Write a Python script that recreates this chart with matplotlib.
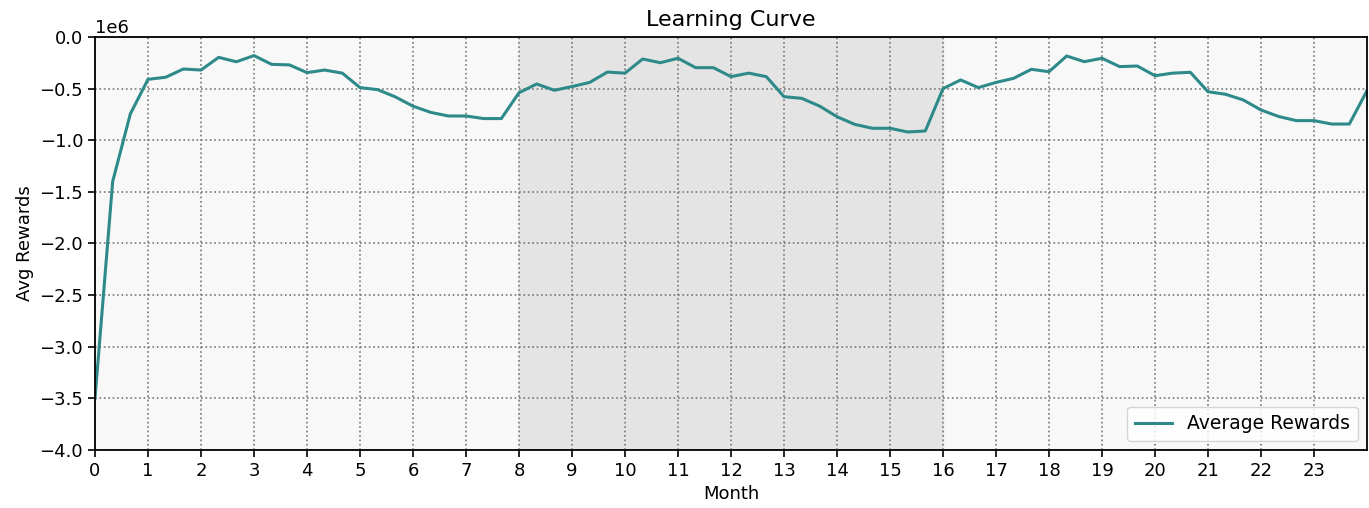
import numpy as np
import matplotlib
matplotlib.use("Agg")
import matplotlib.pyplot as plt

# average reward, one sample every third of a month (in millions)
months = np.arange(73) / 3.0
avg_rewards = np.array([
    -3.50, -1.40, -0.745, -0.41, -0.39, -0.31, -0.32, -0.197, -0.24, -0.18,
    -0.265, -0.27, -0.345, -0.32, -0.35, -0.49, -0.51, -0.58, -0.67, -0.73,
    -0.765, -0.765, -0.79, -0.79, -0.54, -0.455, -0.516, -0.48, -0.44, -0.34,
    -0.35, -0.213, -0.249, -0.206, -0.297, -0.297, -0.384, -0.35, -0.384, -0.578,
    -0.594, -0.668, -0.772, -0.846, -0.884, -0.884, -0.92, -0.91, -0.50, -0.416,
    -0.49, -0.44, -0.40, -0.313, -0.336, -0.184, -0.239, -0.206, -0.287, -0.281,
    -0.375, -0.35, -0.342, -0.53, -0.555, -0.61, -0.707, -0.77, -0.81, -0.81,
    -0.843, -0.843, -0.52,
]) * 1e6

highlight_start, highlight_end = 8, 16
month_ticks = list(range(24))

fig = plt.figure(figsize=(13.69, 5.08), dpi=100)
ax = fig.add_axes([95 / 1369, 58 / 508, 1272 / 1369, 413 / 508])
ax.set_facecolor("#f8f8f8")
ax.axvspan(highlight_start, highlight_end, color="#e4e4e4", zorder=0)

ax.plot(months, avg_rewards, color="#2e8a8a", linewidth=2.2, label="Average Rewards")

ax.set_xlim(0, 24)
ax.set_ylim(-4e6, 0)
ax.set_xticks(month_ticks)
ax.grid(True, linestyle=":", color="#777777", linewidth=1.2)
ax.tick_params(labelsize=13, width=1.2, length=5)
ax.yaxis.get_offset_text().set_fontsize(13)
for sp in ax.spines.values():
    sp.set_linewidth(1.3)

ax.set_xlabel("Month", fontsize=13)
ax.set_ylabel("Avg Rewards", fontsize=13)
ax.set_title("Learning Curve", fontsize=16, pad=8)
ax.legend(loc="lower right", fontsize=13.5)

fig.savefig("out.png", dpi=100)
